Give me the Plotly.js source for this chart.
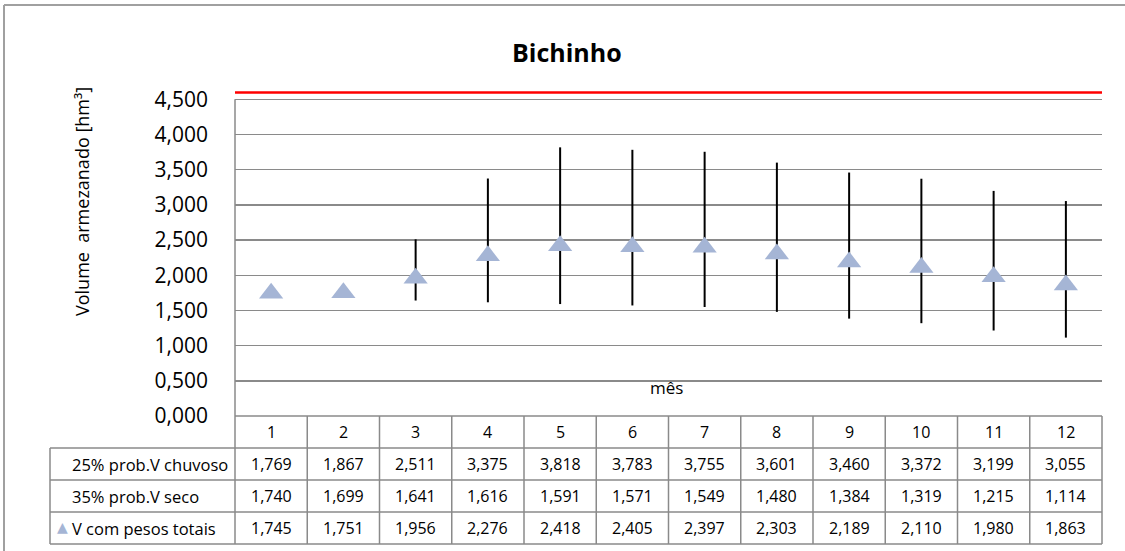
<!DOCTYPE html>
<html>
<head>
<meta charset="utf-8">
<script src="https://cdn.plot.ly/plotly-3.0.1.min.js"></script>
<style>html,body{margin:0;padding:0;background:#fff;}#chart{width:1125px;height:551px;}</style>
</head>
<body>
<div id="chart"></div>
<script>
// ---- data ----
const meses = [1,2,3,4,5,6,7,8,9,10,11,12];
const chuvoso = [1.769,1.867,2.511,3.375,3.818,3.783,3.755,3.601,3.460,3.372,3.199,3.055];
const seco    = [1.740,1.699,1.641,1.616,1.591,1.571,1.549,1.480,1.384,1.319,1.215,1.114];
const pesos   = [1.745,1.751,1.956,2.276,2.418,2.405,2.397,2.303,2.189,2.110,1.980,1.863];
const capacidade = 4.598;
const rowLabels = ['25% prob.V chuvoso','35% prob.V seco','V com pesos totais'];
const yTicks = [0,0.5,1,1.5,2,2.5,3,3.5,4,4.5];

// ---- layout geometry (pixels) ----
const W = 1125, H = 551;
const mL = 235, mR = 23, mT = 90, mB = 135;
const pw = W - mL - mR, ph = H - mT - mB;
const px = x => (x - mL) / pw;          // pixel x -> paper
const py = y => (H - mB - y) / ph;      // pixel y -> paper
const gridCol = '#8a8a8a';
const FONT = 'Open Sans, Noto Sans, sans-serif';
const fmt = v => v.toFixed(3).replace('.', ',');

const colW = pw / meses.length;
const colCx = i => mL + (i + 0.5) * colW;

const rowTop = [416, 448, 480, 512];
const rowBot = 544;
const labLeft = 50;

const shapes = [];
const annotations = [];
const line = (x0,y0,x1,y1,c,w) => shapes.push({type:'line',xref:'paper',yref:'paper',x0:px(x0),y0:py(y0),x1:px(x1),y1:py(y1),line:{color:c,width:w}});

// chart outer border (top & left)
line(4,5,W,5,'#a0a0a0',2);
line(4,5,4,H,'#a0a0a0',2);

// left axis line
line(mL,99.3,mL,rowTop[1],gridCol,1.5);
// table horizontal lines
line(mL,rowTop[0],W-mR,rowTop[0],gridCol,1.5);
line(labLeft,rowTop[1],W-mR,rowTop[1],gridCol,1.5);
line(labLeft,rowTop[2],W-mR,rowTop[2],gridCol,1.5);
line(labLeft,rowTop[3],W-mR,rowTop[3],gridCol,1.5);
line(labLeft,rowBot,W-mR,rowBot,gridCol,1.5);
// vertical lines
line(labLeft,rowTop[1],labLeft,rowBot,gridCol,1.5);
line(mL,rowTop[1],mL,rowBot,gridCol,1.5);
for (let i = 1; i <= meses.length; i++) {
  const x = mL + i * colW;
  line(x,rowTop[0],x,rowBot,gridCol,1.5);
}

const tf = {family:FONT,size:16,color:'#000'};
const rows = [chuvoso, seco, pesos];
meses.forEach((m,i) => {
  annotations.push({xref:'paper',yref:'paper',x:px(colCx(i)),y:py((rowTop[0]+rowTop[1])/2),text:String(m),showarrow:false,font:tf,xanchor:'center',yanchor:'middle'});
  rows.forEach((r,k) => {
    const yc = (rowTop[k+1] + (k<2 ? rowTop[k+2] : rowBot))/2;
    annotations.push({xref:'paper',yref:'paper',x:px(colCx(i)),y:py(yc),text:fmt(r[i]),showarrow:false,font:tf,xanchor:'center',yanchor:'middle'});
  });
});
rowLabels.forEach((t,k) => {
  const yc = (rowTop[k+1] + (k<2 ? rowTop[k+2] : rowBot))/2;
  annotations.push({xref:'paper',yref:'paper',x:px(70),y:py(yc),text:t,showarrow:false,font:{family:FONT,size:16.5,color:'#000'},xanchor:'left',yanchor:'middle'});
});
// legend key triangle
annotations.push({xref:'paper',yref:'paper',x:px(62),y:py(527),text:'▲',showarrow:false,font:{family:'DejaVu Sans',size:14,color:'#A5B5D5'},xanchor:'center',yanchor:'middle'});

// title, axis titles
annotations.push({xref:'paper',yref:'paper',x:px(567),y:py(52),text:'<b>Bichinho</b>',showarrow:false,font:{family:FONT,size:25,color:'#000'},xanchor:'center',yanchor:'middle'});
annotations.push({xref:'paper',yref:'paper',x:px(82),y:py(202),text:'Volume  armezanado [hm³]',textangle:-90,showarrow:false,font:{family:FONT,size:18,color:'#000'},xanchor:'center',yanchor:'middle'});
annotations.push({xref:'paper',yref:'paper',x:px(666),y:py(387),text:'mês',showarrow:false,font:{family:FONT,size:17,color:'#000'},xanchor:'center',yanchor:'middle'});

const traces = [
  {
    x: [0.5, 12.5], y: [capacidade, capacidade], mode:'lines', type:'scatter',
    line:{color:'#ff0000', width:2.5}, hoverinfo:'skip', showlegend:false
  },
  {
    x: meses, y: pesos, type:'scatter', mode:'markers', name: rowLabels[2],
    marker:{symbol:'triangle-up', size:21, color:'#A5B5D5'},
    error_y:{type:'data', symmetric:false,
      array: chuvoso.map((v,i) => v - pesos[i]),
      arrayminus: pesos.map((v,i) => v - seco[i]),
      color:'#000', thickness:2, width:0},
    showlegend:false, cliponaxis:false
  }
];

const layout = {
  width: W, height: H,
  margin: {l:mL, r:mR, t:mT, b:mB, pad:0},
  paper_bgcolor:'#fff', plot_bgcolor:'#fff',
  separators: ',.',
  showlegend:false,
  xaxis: {range:[0.5,12.5], showgrid:false, zeroline:false, showline:false, showticklabels:false, ticks:''},
  yaxis: {range:[0,4.633], tickvals:yTicks, tickformat:'.3f', showgrid:true, gridcolor:gridCol, gridwidth:1.5,
          zeroline:false, showline:false, ticks:'', ticklabelstandoff:26,
          tickfont:{family:FONT,size:21,color:'#000'}},
  shapes, annotations
};
Plotly.newPlot('chart', traces, layout, {displayModeBar:false, staticPlot:true});
</script>
</body>
</html>
